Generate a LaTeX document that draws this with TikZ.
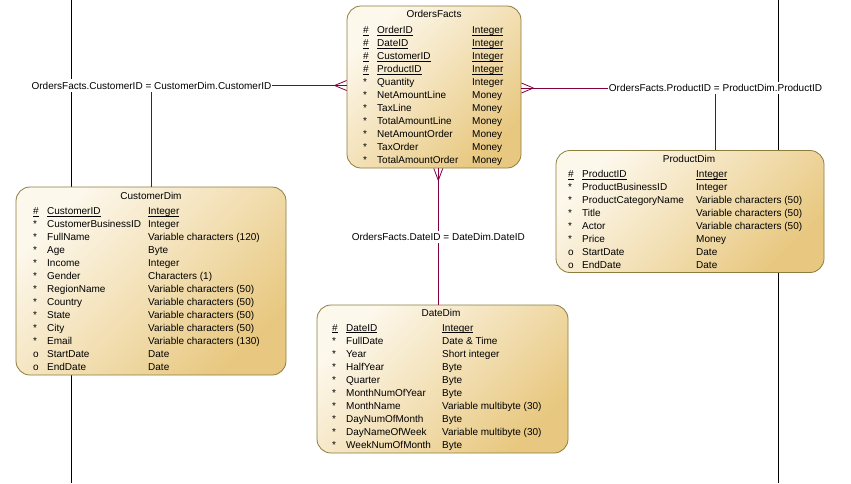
\documentclass[tikz,border=0pt]{standalone}
\usepackage{fontspec}
\setmainfont{Liberation Sans}
\usetikzlibrary{calc}
\definecolor{boxlight}{RGB}{253,248,236}
\definecolor{boxdark}{RGB}{232,200,128}
\definecolor{boxborder}{RGB}{140,125,60}
\definecolor{relcol}{RGB}{128,0,64}
\newcommand\tblfont{\fontsize{10}{12}\selectfont}
\newcommand\keyu[1]{\setbox0\hbox{#1}\rlap{\rule[-1.8pt]{\wd0}{0.75pt}}\box0}
\tikzset{
  tablebox/.style={draw=boxborder, line width=0.8pt, rounded corners=14pt,
    top color=boxlight, bottom color=boxdark, shading angle=45, inner sep=0pt},
  ttl/.style={anchor=base, inner sep=0pt, font=\tblfont},
  cell/.style={anchor=base west, inner sep=0pt, font=\tblfont},
  relline/.style={draw=relcol, line width=0.8pt},
  frameline/.style={draw=black, line width=0.8pt},
  lbl/.style={fill=white, inner xsep=1pt, inner ysep=2.5pt, font=\tblfont},
}
\begin{document}
\begin{tikzpicture}[x=1pt,y=-1pt]
\useasboundingbox[fill=white] (0,0) rectangle (851,483);
% background vertical lines
\coordinate (fl1) at (71,0);  \coordinate (fl1b) at (71,483);
\coordinate (fl2) at (778,0); \coordinate (fl2b) at (778,483);
\draw[frameline] (fl1) -- (fl1b);
\draw[frameline] (fl2) -- (fl2b);

% ---------- OrdersFacts ----------
\node[tablebox, minimum width=174pt, minimum height=162pt] (orders) at (434,87) {};
\node[ttl] (ordersT) at (434,17.6) {OrdersFacts};
\foreach \m/\n/\t [count=\i] in {
  \keyu{\#}/\keyu{OrderID}/\keyu{Integer},
  \keyu{\#}/\keyu{DateID}/\keyu{Integer},
  \keyu{\#}/\keyu{CustomerID}/\keyu{Integer},
  \keyu{\#}/\keyu{ProductID}/\keyu{Integer},
  */Quantity/Integer,
  */NetAmountLine/Money,
  */TaxLine/Money,
  */TotalAmountLine/Money,
  */NetAmountOrder/Money,
  */TaxOrder/Money,
  */TotalAmountOrder/Money}{
  \node[cell] (ordersM\i) at (363,{33.6+13*(\i-1)}) {\m};
  \node[cell] (ordersN\i) at (377,{33.6+13*(\i-1)}) {\n};
  \node[cell] (ordersY\i) at (472,{33.6+13*(\i-1)}) {\t};
}

% ---------- CustomerDim ----------
\node[tablebox, minimum width=270pt, minimum height=188pt] (cust) at (151,281) {};
\node[ttl] (custT) at (151,199.4) {CustomerDim};
\foreach \m/\n/\t [count=\i] in {
  \keyu{\#}/\keyu{CustomerID}/\keyu{Integer},
  */CustomerBusinessID/Integer,
  */FullName/Variable characters (120),
  */Age/Byte,
  */Income/Integer,
  */Gender/Characters (1),
  */RegionName/Variable characters (50),
  */Country/Variable characters (50),
  */State/Variable characters (50),
  */City/Variable characters (50),
  */Email/Variable characters (130),
  o/StartDate/Date,
  o/EndDate/Date}{
  \node[cell] (custM\i) at (33,{214.6+12.97*(\i-1)}) {\m};
  \node[cell] (custN\i) at (47,{214.6+12.97*(\i-1)}) {\n};
  \node[cell] (custY\i) at (148,{214.6+12.97*(\i-1)}) {\t};
}

% ---------- ProductDim ----------
\node[tablebox, minimum width=268pt, minimum height=122pt] (prod) at (690,211.5) {};
\node[ttl] (prodT) at (689,162.6) {ProductDim};
\foreach \m/\n/\t [count=\i] in {
  \keyu{\#}/\keyu{ProductID}/\keyu{Integer},
  */ProductBusinessID/Integer,
  */ProductCategoryName/Variable characters (50),
  */Title/Variable characters (50),
  */Actor/Variable characters (50),
  */Price/Money,
  o/StartDate/Date,
  o/EndDate/Date}{
  \node[cell] (prodM\i) at (568,{177.6+12.95*(\i-1)}) {\m};
  \node[cell] (prodN\i) at (582,{177.6+12.95*(\i-1)}) {\n};
  \node[cell] (prodY\i) at (696,{177.6+12.95*(\i-1)}) {\t};
}

% ---------- DateDim ----------
\node[tablebox, minimum width=251pt, minimum height=148pt] (date) at (442.5,379) {};
\node[ttl] (dateT) at (441,316.3) {DateDim};
\foreach \m/\n/\t [count=\i] in {
  \keyu{\#}/\keyu{DateID}/\keyu{Integer},
  */FullDate/Date \& Time,
  */Year/Short integer,
  */HalfYear/Byte,
  */Quarter/Byte,
  */MonthNumOfYear/Byte,
  */MonthName/Variable multibyte (30),
  */DayNumOfMonth/Byte,
  */DayNameOfWeek/Variable multibyte (30),
  */WeekNumOfMonth/Byte}{
  \node[cell] (dateM\i) at (332,{331.1+13.04*(\i-1)}) {\m};
  \node[cell] (dateN\i) at (346,{331.1+13.04*(\i-1)}) {\n};
  \node[cell] (dateY\i) at (442,{331.1+13.04*(\i-1)}) {\t};
}

% ---------- Connectors ----------
% Customer
\coordinate (bC) at (151.5,85.5);
\coordinate (cfC) at (bC -| orders.west);
\draw[relline] (cust.north -| bC) -- (bC) -- (cfC);
\draw[relline] ($(cfC)+(-12,0)$) -- ($(cfC)+(0,-5)$)
               ($(cfC)+(-12,0)$) -- ($(cfC)+(0,5)$);
\node[lbl] (lblC) at (bC) {OrdersFacts.CustomerID = CustomerDim.CustomerID};

% Product
\coordinate (bP) at (715.5,88);
\coordinate (cfP) at (bP -| orders.east);
\draw[relline] (prod.north -| bP) -- (bP) -- (cfP);
\draw[relline] ($(cfP)+(12,0)$) -- ($(cfP)+(0,-5)$)
               ($(cfP)+(12,0)$) -- ($(cfP)+(0,5)$);
\node[lbl] (lblP) at (bP) {OrdersFacts.ProductID = ProductDim.ProductID};

% Date
\coordinate (bD) at (438.3,237);
\coordinate (cfD) at (orders.south -| bD);
\draw[relline] (date.north -| bD) -- (cfD);
\draw[relline] ($(cfD)+(0,12)$) -- ($(cfD)+(-4.5,0)$)
               ($(cfD)+(0,12)$) -- ($(cfD)+(4.5,0)$);
\node[lbl] (lblD) at (bD) {OrdersFacts.DateID = DateDim.DateID};
\end{tikzpicture}
\end{document}
